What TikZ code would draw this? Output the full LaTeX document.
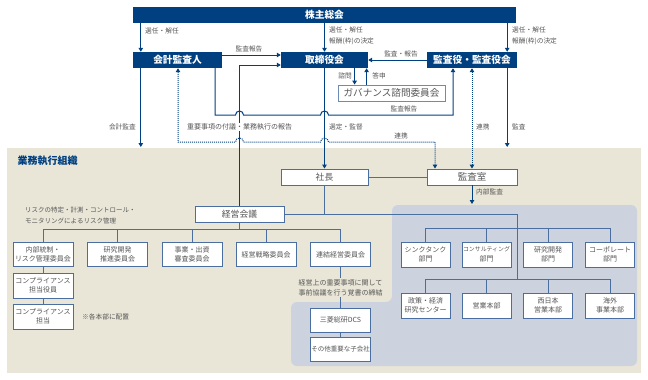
\documentclass[tikz,border=0pt]{standalone}
\usepackage{fontspec}
\setmainfont{Noto Sans CJK JP}
\usetikzlibrary{arrows.meta}
\definecolor{navy}{RGB}{0,64,128}
\definecolor{orgblue}{RGB}{75,110,160}
\definecolor{txtgray}{RGB}{85,85,85}
\definecolor{beige}{RGB}{233,230,216}
\definecolor{paleblue}{RGB}{204,211,222}
\tikzset{
  topbox/.style={fill=navy, text=white, font=\bfseries\fontsize{9.7}{11}\selectfont, minimum height=16pt, inner sep=0pt},
  midbox/.style={draw=orgblue, line width=0.9pt, fill=white, text=txtgray, font=\fontsize{8.8}{10}\selectfont, minimum height=16pt, inner sep=0pt},
  unitbox/.style={draw=orgblue, line width=0.9pt, fill=white, text=txtgray, font=\fontsize{7}{9.5}\selectfont, align=center, minimum width=60pt, minimum height=24pt, inner sep=0pt},
  deptbox/.style={unitbox, minimum width=49pt, minimum height=25pt},
  lbl/.style={text=txtgray, font=\fontsize{6.7}{11}\selectfont, inner sep=1pt},
  govline/.style={draw=navy, line width=1pt},
  arr/.style={govline, -{Triangle[length=4pt,width=4.5pt]}},
  dotarr/.style={govline, densely dotted, {Triangle[length=4pt,width=4.5pt]}-{Triangle[length=4pt,width=4.5pt]}},
  orgline/.style={draw=orgblue, line width=0.7pt},
}
\begin{document}
\begin{tikzpicture}[x=1pt, y=-1pt]
    \useasboundingbox (0,0) rectangle (648,380);
    % 背景
    \fill[beige] (7,148) rectangle (641,373);
    \fill[paleblue, rounded corners=6pt] (500,205) -- (637,205) -- (637,366) -- (291,366) -- (291,302) -- (392,302) -- (392,205) -- cycle;
    \node[anchor=west, text=navy, font=\bfseries\fontsize{10}{11}\selectfont] (orgtitle) at (14,161) {業務執行組織};
    \coordinate (orgtop) at (324,147);
    \coordinate (grptop) at (472,204);

    % 統治機構
    \node[topbox, minimum width=383pt] (shareholders) at (324.5,15) {株主総会};
    \node[topbox, minimum width=89pt] (auditor) at (177.5,60) {会計監査人};
    \node[topbox, minimum width=87pt] (board) at (324.5,60) {取締役会};
    \node[topbox, minimum width=90pt] (kansa) at (472,60) {監査役・監査役会};
    \node[midbox, draw=orgblue!80, line width=0.8pt, font=\fontsize{9.6}{11}\selectfont, minimum width=107pt] (advisory) at (391.5,93) {ガバナンス諮問委員会};

    % 執行組織
    \node[midbox, minimum width=87pt] (president) at (324.5,177) {社長};
    \node[midbox, font=\fontsize{9.5}{10}\selectfont, minimum width=90pt] (auditoffice) at (472,177) {監査室};
    \node[midbox, minimum width=89pt] (mgmt) at (239.5,214) {経営会議};
    \foreach \x/\n/\t in {43/ctrl/{内部統制・\\リスク管理委員会}, 117.5/rnd/{研究開発\\推進委員会}, 192/invest/{事業・出資\\審査委員会}, 266/strategy/{経営戦略委員会}, 340.5/group/{連結経営委員会}}{
        \node[unitbox] (\n) at (\x,254.5) {\t};
    }
    \node[unitbox, minimum height=25pt] (comp1) at (43,285.5) {コンプライアンス\\担当役員};
    \node[unitbox, minimum height=25pt] (comp2) at (43,316.5) {コンプライアンス\\担当};
    \node[lbl, anchor=west] (placed) at (81,317) {※各本部に配置};
    \node[lbl, anchor=west, align=left, font=\fontsize{6.5}{11}\selectfont] (risknote) at (24,215.5) {リスクの特定・計測・コントロール・\\モニタリングによるリスク管理};
    \node[lbl, align=center, font=\fontsize{7}{10}\selectfont] (pact) at (340.5,287.5) {経営上の重要事項に関して\\事前協議を行う覚書の締結};
    \node[unitbox] (dcs) at (340.5,320) {三菱総研DCS};
    \node[unitbox, font=\fontsize{6.5}{9}\selectfont] (others) at (340.5,349.5) {その他重要な子会社};
    \foreach \x/\n/\t in {425.5/thinktank/{シンクタンク\\部門}, 486.5/consulting/{{\fontsize{5.9}{9.5}\selectfont コンサルティング}\\部門}, 548/research/{研究開発\\部門}, 610/corporate/{コーポレート\\部門}}{
        \node[deptbox] (\n) at (\x,254.5) {\t};
    }
    \foreach \x/\n/\t in {425.5/policy/{政策・経済\\研究センター}, 486.5/sales/{営業本部}, 548/west/{西日本\\営業本部}, 610/overseas/{海外\\事業本部}}{
        \node[deptbox] (\n) at (\x,305.5) {\t};
    }

    % 株主総会からの選任
    \coordinate (elect1) at ([xshift=8pt]auditor.north west);
    \coordinate (elect3) at ([xshift=-10pt]kansa.north east);
    \draw[arr] (elect1 |- shareholders.south) -- (elect1);
    \draw[arr] (board.north |- shareholders.south) -- (board.north);
    \draw[arr] (elect3 |- shareholders.south) -- (elect3);
    \node[lbl, anchor=west] at (144,31) {選任・解任};
    \node[lbl, anchor=west, align=left] at (328,35.5) {選任・解任\\報酬(枠)の決定};
    \node[lbl, anchor=west, align=left] at (511,35.5) {選任・解任\\報酬(枠)の決定};

    % 監査・報告
    \draw[arr] ([yshift=5pt]auditor.east) -- ([yshift=5pt]board.west);
    \node[lbl] at (249,49) {監査報告};
    \draw[arr] (kansa.west) -- (board.east);
    \node[lbl] at (401,54) {監査・報告};
    \coordinate (ask) at ([xshift=17pt]advisory.north west);
    \coordinate (answer) at ([xshift=29pt]advisory.north west);
    \draw[arr] (ask |- board.south) -- (ask);
    \draw[arr] (answer) -- (answer |- board.south);
    \node[lbl] at (345,76) {諮問};
    \node[lbl] at (379,76) {答申};

    \draw[arr] (mgmt.north) |- ([yshift=-5pt]board.west);
    \draw[arr] (board.south) -- (president.north);
    \coordinate (rep1) at ([xshift=-7pt]auditor.south east);
    \coordinate (rep2) at ([xshift=-19pt]kansa.south);
    \draw[arr] (rep1) |- (235.5,115) arc[start angle=180, end angle=0, radius=4pt] -- (320.5,115) arc[start angle=180, end angle=0, radius=4pt] -| (rep2);
    \node[lbl] at (404,108.5) {監査報告};
    \coordinate (dot1) at ([xshift=0.5pt]auditor.south);
    \coordinate (dot2) at ([xshift=-37pt]auditoffice.north);
    \draw[dotarr] (dot1) |- (235.5,142) arc[start angle=180, end angle=0, radius=4pt] -- (320.5,142) arc[start angle=180, end angle=0, radius=4pt] -| (dot2);
    \node[lbl] at (401,136) {連携};
    \draw[dotarr] (kansa.south) -- (auditoffice.north);
    \draw[arr] (elect1 |- auditor.south) -- (elect1 |- orgtop);
    \draw[arr] (elect3 |- kansa.south) -- (elect3 |- orgtop);
    \node[lbl, anchor=east] at (137,127) {会計監査};
    \node[lbl, fill=white, font=\fontsize{7}{11}\selectfont] at (239.5,127) {重要事項の付議・業務執行の報告};
    \node[lbl, anchor=west] at (328,127) {選定・監督};
    \node[lbl, anchor=west] at (475,127) {連携};
    \node[lbl, anchor=west] at (511,127) {監査};

    % 執行組織の線
    \draw[orgline] (president.east) -- (auditoffice.west);
    \draw[arr] (auditoffice.south) -- (grptop);
    \node[lbl, anchor=west] at (475,192) {内部監査};
    \draw[orgline] (president.south) -- (president.south |- mgmt.east);
    \draw[orgline] (mgmt.east) -- (517,214) -- (517,280);
    \draw[orgline] (mgmt.south) -- ++(0,7);
    \draw[orgline] (ctrl.north) -- ++(0,-13) -| (group.north);
    \foreach \n in {rnd,invest,strategy}{
        \draw[orgline] (\n.north) -- ++(0,-13);
    }
    \draw[orgline] (ctrl.south) -- (comp1.north);
    \draw[orgline] (comp1.south) -- (comp2.north);
    \draw[orgline] (group.south) -- (pact.north);
    \draw[orgline] (pact.south) -- (dcs.north);
    \draw[orgline] (dcs.south) -- (others.north);
    \draw[orgline] (thinktank.north) -- ++(0,-13) -| (corporate.north);
    \draw[orgline] (policy.north) -- ++(0,-13) -| (overseas.north);
    \foreach \n in {consulting,research,sales,west}{
        \draw[orgline] (\n.north) -- ++(0,-13);
    }
\end{tikzpicture}
\end{document}
